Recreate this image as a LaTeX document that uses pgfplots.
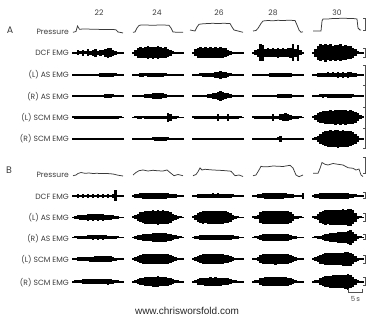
\documentclass[border=0pt]{standalone}
\usepackage{pgfplots}
\usepackage{pgfplotstable}
\usepackage{fontspec}
\pgfplotsset{compat=1.18}
\setmainfont{Poppins}
\newfontfamily\arialf{Liberation Sans}
\definecolor{txt}{HTML}{3C3C3C}
\definecolor{prscol}{HTML}{3A3A3A}
\definecolor{sbar}{HTML}{505050}
\tikzset{lab/.style={font=\fontsize{7.6}{9}\selectfont, text=txt, inner sep=0pt}}

\pgfplotstableread{
t    a1  a2  a3  a4  a5
0    0.8 0.8 0.8 0.8 1.0
2.5  1.2 3.0 3.5 2.5 4.0
5    2.5 5.0 5.0 4.0 7.0
7.5  1.5 5.5 5.5 8.5 8.5
10   3.0 5.0 5.0 8.0 7.5
12.5 1.5 5.5 5.5 4.0 9.0
15   3.5 6.5 5.0 4.5 7.5
17.5 1.8 5.5 5.5 4.0 8.5
20   3.0 6.0 5.0 4.5 7.0
22.5 3.8 5.5 5.5 4.0 8.0
25   2.2 6.5 5.0 5.0 7.5
27.5 3.2 5.5 5.5 4.0 8.5
30   2.5 5.0 5.0 4.5 7.0
32.5 4.0 5.5 4.5 4.0 7.5
35   5.0 4.0 3.0 4.5 6.5
37.5 4.5 3.0 2.0 5.0 6.5
40   3.0 1.5 1.2 8.5 5.0
42.5 2.2 0.9 0.9 4.0 3.5
45   1.2 0.8 0.8 8.0 1.5
47.5 0.8 0.8 0.8 2.5 0.9
50   0.8 0.8 0.8 0.8 0.8
}\tADCF

\pgfplotstableread{
t    a1  a2  a3  a4  a5
0    0.9 0.9 0.8 0.8 0.9
2.5  1.0 1.0 1.0 0.9 1.3
5    0.9 1.3 1.2 1.0 2.0
7.5  1.0 1.6 1.5 1.1 2.3
10   0.9 1.8 1.8 1.3 2.4
12.5 1.0 1.5 2.0 1.4 2.2
15   1.0 1.9 1.8 1.4 2.5
17.5 1.1 1.6 2.2 1.6 2.2
20   1.0 2.0 2.4 1.7 2.5
22.5 1.2 1.8 2.6 1.6 2.3
25   1.4 2.2 3.0 1.9 2.6
27.5 1.9 1.8 3.6 2.1 2.4
30   2.1 1.7 3.2 1.9 2.7
32.5 2.3 1.5 2.6 2.1 2.4
35   2.0 1.3 2.0 1.9 2.7
37.5 2.3 1.2 1.5 1.6 2.5
40   1.8 1.0 1.1 1.3 2.3
42.5 1.5 1.0 0.9 1.0 1.9
45   1.2 0.9 0.8 0.9 1.3
47.5 0.9 0.9 0.8 0.8 0.9
50   0.8 0.8 0.8 0.8 0.8
}\tALAS

\pgfplotstableread{
t    a1  a2  a3  a4  a5
0    0.7 0.7 0.7 0.7 0.8
2.5  0.7 0.7 0.7 0.7 1.0
5    0.7 0.8 0.7 0.7 1.3
7.5  0.7 1.0 0.8 0.7 1.5
10   0.7 1.4 0.9 0.7 1.6
12.5 0.7 1.9 1.2 0.7 1.5
15   0.7 2.2 1.6 0.8 1.7
17.5 0.7 2.4 2.1 0.9 1.6
20   0.7 2.7 2.6 1.2 1.7
22.5 0.7 3.0 3.2 1.4 1.6
25   0.7 3.2 3.8 1.7 1.8
27.5 0.8 3.0 4.6 1.9 1.6
30   1.2 2.5 4.3 2.1 1.7
32.5 1.6 1.8 3.4 2.0 1.6
35   1.8 1.2 2.5 1.9 1.7
37.5 2.0 0.9 1.6 1.6 1.6
40   1.5 0.8 1.1 1.1 1.5
42.5 1.0 0.7 0.8 0.8 1.3
45   0.7 0.7 0.7 0.7 1.0
47.5 0.7 0.7 0.7 0.7 0.8
50   0.7 0.7 0.7 0.7 0.7
}\tARAS

\pgfplotstableread{
t    a1  a2  a3  a4  a5
0    1.0 0.9 1.0 1.0 1.0
2.5  1.1 1.0 1.2 1.1 2.5
5    1.2 1.1 1.3 1.2 4.5
7.5  1.1 1.1 1.2 1.3 5.5
10   1.2 1.0 1.3 1.2 6.0
12.5 1.1 1.1 1.2 1.3 6.5
15   1.3 1.2 1.3 1.2 6.8
17.5 1.2 1.1 1.4 1.4 7.0
20   1.4 1.2 1.3 3.2 6.8
22.5 1.5 1.4 1.5 1.4 7.2
25   1.4 1.5 3.5 1.5 7.0
27.5 1.5 1.6 1.5 3.0 7.3
30   1.6 1.5 1.4 3.8 7.0
32.5 1.5 1.8 1.5 4.0 7.2
35   1.6 4.5 3.2 3.7 6.8
37.5 1.5 3.2 1.4 2.6 7.0
40   1.6 1.3 1.3 1.5 6.5
42.5 1.4 1.1 1.2 1.2 5.5
45   1.2 1.0 1.1 1.1 4.0
47.5 1.0 0.9 1.0 1.0 2.0
50   0.9 0.9 0.9 0.9 1.0
}\tALSCM

\pgfplotstableread{
t    a1  a2  a3  a4  a5
0    1.0 1.0 1.0 1.0 0.9
2.5  1.2 1.1 1.2 1.1 1.5
5    1.3 1.2 1.3 1.2 3.0
7.5  1.2 1.3 1.2 1.3 5.0
10   1.4 1.2 1.4 1.2 6.5
12.5 1.3 1.3 1.3 1.3 7.5
15   1.4 1.3 1.4 1.2 8.0
17.5 1.3 1.4 1.3 1.3 8.5
20   1.4 1.5 1.4 1.2 8.0
22.5 1.3 1.6 1.3 1.3 8.5
25   1.4 1.7 1.4 1.5 8.8
27.5 1.3 1.8 1.3 3.2 8.0
30   1.4 1.7 1.4 1.3 8.5
32.5 1.3 1.8 1.3 1.2 8.0
35   1.4 1.5 1.4 1.3 8.0
37.5 1.3 1.3 1.3 1.2 7.5
40   1.4 1.2 1.4 1.3 6.5
42.5 1.3 1.1 1.3 1.2 5.0
45   1.2 1.0 1.2 1.1 3.0
47.5 1.1 1.0 1.1 1.0 1.4
50   1.0 0.9 1.0 1.0 0.9
}\tARSCM

\pgfplotstableread{
t    a1  a2  a3  a4  a5
0    0.8 0.9 0.9 0.8 0.9
2.5  1.2 1.6 1.4 1.2 1.6
5    1.8 2.2 1.9 1.8 2.4
7.5  1.2 2.5 2.2 2.2 2.8
10   2.0 2.7 2.3 2.5 3.0
12.5 1.3 2.6 2.4 2.6 2.9
15   1.9 2.8 2.3 2.7 3.1
17.5 1.3 2.7 2.4 2.6 3.0
20   2.0 2.9 2.5 2.8 3.2
22.5 1.4 2.7 2.4 2.7 3.0
25   1.9 2.8 2.5 2.8 3.1
27.5 1.4 2.7 2.4 2.6 3.0
30   2.0 2.8 2.3 2.7 2.9
32.5 1.4 2.6 2.2 2.5 2.8
35   1.9 2.5 2.0 2.4 2.6
37.5 1.4 2.3 1.8 2.2 2.3
40   2.2 2.1 1.5 1.8 2.0
42.5 5.5 1.8 1.2 1.4 1.5
45   1.2 1.4 1.0 1.1 1.1
47.5 0.8 1.0 0.9 1.0 0.9
50   0.8 0.8 0.8 2.8 0.8
}\tBDCF

\pgfplotstableread{
t    a1  a2  a3  a4  a5
0    0.9 1.0 1.0 1.0 1.0
2.5  1.3 2.0 2.5 1.3 1.5
5    2.0 3.8 4.8 2.0 3.0
7.5  2.4 5.0 5.8 5.2 5.5
10   2.7 5.6 6.2 6.3 6.8
12.5 2.9 6.2 6.0 6.7 7.2
15   3.1 6.6 6.3 6.5 7.0
17.5 3.0 6.9 6.1 6.8 7.4
20   3.2 7.0 6.4 6.6 7.2
22.5 3.0 6.8 6.2 6.9 7.5
25   3.2 7.1 6.3 6.7 7.8
27.5 3.0 6.8 6.1 6.9 7.4
30   3.1 7.0 6.2 6.6 8.0
32.5 2.9 6.6 6.0 6.8 7.6
35   2.7 6.3 5.5 6.5 8.2
37.5 2.4 5.3 4.4 5.8 8.6
40   2.0 3.8 2.8 3.2 7.0
42.5 1.4 2.2 1.4 1.6 4.5
45   1.1 1.3 1.0 1.1 1.8
47.5 0.9 1.0 0.9 1.0 1.0
50   0.8 0.9 0.9 0.9 0.9
}\tBLAS

\pgfplotstableread{
t    a1  a2  a3  a4  a5
0    0.8 0.9 0.8 0.8 0.9
2.5  1.0 1.5 1.2 1.0 1.0
5    1.4 2.3 1.8 1.5 1.3
7.5  1.6 2.9 2.2 2.5 1.8
10   1.8 3.3 2.4 3.0 2.6
12.5 1.9 3.6 2.6 3.3 3.1
15   2.0 3.8 2.7 3.4 3.6
17.5 2.0 3.9 2.7 3.5 4.1
20   2.1 4.0 2.8 3.4 4.6
22.5 2.0 4.1 2.7 3.5 4.7
25   2.1 4.2 2.8 3.4 5.2
27.5 2.0 4.1 2.7 3.5 5.3
30   2.1 4.2 2.7 3.3 5.8
32.5 2.0 4.0 2.6 3.2 5.9
35   1.9 3.8 2.5 3.0 6.5
37.5 1.8 3.4 2.3 2.6 7.2
40   1.5 2.8 2.0 1.9 5.5
42.5 1.2 2.0 1.5 1.2 3.2
45   1.0 1.3 1.1 0.9 1.5
47.5 0.8 1.0 0.9 0.8 1.0
50   0.8 0.9 0.8 0.8 0.9
}\tBRAS

\pgfplotstableread{
t    a1  a2  a3  a4  a5
0    0.9 1.0 1.0 1.0 1.0
2.5  1.3 1.9 2.0 1.3 1.6
5    1.8 3.2 3.4 2.0 3.0
7.5  2.0 4.2 4.3 4.2 4.5
10   2.2 4.7 4.6 5.0 5.2
12.5 2.2 5.0 4.8 5.3 5.6
15   2.4 5.2 4.7 5.2 5.8
17.5 2.5 5.0 4.9 5.4 5.7
20   2.5 5.3 4.8 5.3 6.0
22.5 2.6 5.1 4.9 5.5 5.9
25   2.7 5.3 4.8 5.3 6.2
27.5 2.7 5.0 4.7 5.4 6.0
30   2.9 5.2 4.6 5.2 6.5
32.5 3.0 4.9 4.3 5.0 6.8
35   2.9 4.6 3.8 4.8 7.2
37.5 2.7 4.0 3.0 4.0 6.5
40   2.2 3.0 2.0 2.8 5.0
42.5 1.5 2.0 1.3 1.6 3.0
45   1.1 1.3 1.0 1.1 1.5
47.5 0.9 1.0 0.9 0.9 1.0
50   0.8 0.9 0.9 0.9 0.9
}\tBLSCM

\pgfplotstableread{
t    a1  a2  a3  a4  a5
0    0.9 0.9 0.9 0.9 0.9
2.5  1.2 1.3 1.8 1.2 1.1
5    1.6 2.2 3.0 1.9 1.8
7.5  1.9 3.2 3.6 3.2 3.5
10   2.1 3.9 3.9 4.0 4.8
12.5 2.2 4.3 4.0 4.4 5.4
15   2.3 4.6 4.0 4.6 5.8
17.5 2.4 4.8 4.1 4.7 6.0
20   2.4 5.0 4.0 4.8 6.2
22.5 2.5 5.0 4.1 4.7 6.3
25   2.6 5.1 4.0 4.9 6.4
27.5 2.7 4.9 4.0 4.8 6.5
30   2.8 4.8 3.9 4.6 6.8
32.5 2.9 4.5 3.7 4.4 7.0
35   3.0 4.0 3.3 4.0 8.0
37.5 2.6 3.3 2.6 3.2 6.5
40   2.0 2.4 1.8 2.2 5.0
42.5 1.4 1.6 1.2 1.4 3.0
45   1.1 1.1 1.0 1.0 1.4
47.5 0.9 0.9 0.9 0.9 1.0
50   0.8 0.8 0.8 0.8 0.9
}\tBRSCM

\pgfplotsset{
  emg/.style={black, line width=0.7pt, mark=none,
    error bars/.cd, y dir=both, y explicit, error mark=none,
    error bar style={line width=2.2pt, black}},
  pline/.style={prscol, line width=0.75pt, mark=none},
  sb/.style={sbar, line width=0.6pt, mark=none},
}
\newcommand{\emgrow}[2]{%
  \addplot[emg] table[x expr=\thisrow{t}+73,  y expr=#2, y error=a1] {#1};
  \addplot[emg] table[x expr=\thisrow{t}+133, y expr=#2, y error=a2] {#1};
  \addplot[emg] table[x expr=\thisrow{t}+193, y expr=#2, y error=a3] {#1};
  \addplot[emg] table[x expr=\thisrow{t}+253, y expr=#2, y error=a4] {#1};
  \addplot[emg] table[x expr=\thisrow{t}+313, y expr=#2, y error=a5] {#1};
}

\begin{document}
\begin{tikzpicture}
\path[use as bounding box] (0,0) rectangle (369pt,320pt);
\begin{axis}[at={(0,0)}, anchor=south west, scale only axis,
  width=369pt, height=320pt, xmin=0, xmax=369, ymin=0, ymax=320,
  y dir=reverse, hide axis, clip=false]

% Pressure A
\addplot[pline] coordinates {(73,32.3)(76,31.5)(77.5,26)(79.5,29.3)(83,29)(93,29.2)(103,29.5)(113,29.5)(116,29.8)(118,32)(121,32.5)(123,33)};
\addplot[pline] coordinates {(133,32.3)(135,32)(137,28)(139,25.5)(141,25)(153,25.2)(163,25)(169,25.3)(171,28)(173,32)(178,32.3)(183,32.3)};
\addplot[pline] coordinates {(190,30)(195,31)(197,27)(199,24.3)(203,23.8)(208,23.5)(213,23.3)(218,23.6)(223,23.3)(230,23.5)(232,27)(234,30)(238,31)(243,32.3)};
\addplot[pline] coordinates {(253,31)(256,30.5)(258,28.3)(261,23.5)(263,21)(268,20.5)(273,20.8)(278,20.3)(283,20.6)(288,20.2)(295,20.5)(297,25)(299,30)(301,32.3)(303,31.8)};
\addplot[pline] coordinates {(313,31)(321,31)(322,21)(323,19)(328,19)(333,18.5)(343,18.3)(353,18.5)(357,19)(358,28)(360,30)(361,30)};

% Pressure B
\addplot[pline] coordinates {(73,175.7)(76,175)(78,173.5)(81,172.5)(85,173.3)(89,173)(93,173.5)(97,173.3)(101,173.6)(107,173.5)(113,174)(118,175.2)(123,176)};
\addplot[pline] coordinates {(133,175)(136,172.5)(139,170.7)(143,170)(148,171)(153,170.3)(158,170.8)(163,171)(167,170)(171,173.3)(174,175.7)(178,174.5)(183,175.7)};
\addplot[pline] coordinates {(193,175.7)(196,174.5)(198,171.7)(200,168)(202,170)(205,169.3)(213,170)(223,170.5)(231,171.2)(235,175.7)(239,175)(243,176.5)};
\addplot[pline] coordinates {(253,175.7)(256,175)(259,170)(261,166.3)(263,166.8)(268,166.7)(273,166)(283,166.5)(290,165.3)(293,168)(296,175)(299,176.7)(303,175)};
\addplot[pline] coordinates {(313,173.3)(318,173.3)(320,168.5)(322,162.5)(325,164.3)(328,165)(333,163.5)(338,164.3)(343,165)(348,167.7)(353,168.3)(356,170)(359,169)(361,175)(363,176.5)};

% EMG rows
\emgrow{\tADCF}{53}
\emgrow{\tALAS}{75}
\emgrow{\tARAS}{96}
\emgrow{\tALSCM}{117.5}
\emgrow{\tARSCM}{139}
\emgrow{\tBDCF}{196}
\emgrow{\tBLAS}{217.5}
\emgrow{\tBRAS}{237.5}
\emgrow{\tBLSCM}{259}
\emgrow{\tBRSCM}{281.5}

% scale bars
\addplot[sb] coordinates {(363,18.5)(365,18.5)(365,30.5)(363,30.5)};
\addplot[sb] coordinates {(363,48)(365,48)(365,57)(363,57)};
\addplot[sb] coordinates {(363,65)(365,65)(365,148)(363,148)};
\addplot[sb] coordinates {(363,85.5)(365,85.5)};
\addplot[sb] coordinates {(363,107)(365,107)};
\addplot[sb] coordinates {(363,128)(365,128)};
\addplot[sb] coordinates {(363,157.5)(365,157.5)(365,173.5)(363,173.5)};
\addplot[sb] coordinates {(363,192.5)(365,192.5)(365,198.5)(363,198.5)};
\addplot[sb] coordinates {(363,213.5)(365,213.5)(365,221)(363,221)};
\addplot[sb] coordinates {(363,234.5)(365,234.5)(365,239)(363,239)};
\addplot[sb] coordinates {(363,255)(365,255)(365,263)(363,263)};
\addplot[sb] coordinates {(363,277.5)(365,277.5)(365,285)(363,285)};
\addplot[sb] coordinates {(348,289)(348,292)(362.5,292)(362.5,289)};

% labels
\node[lab, font=\fontsize{9.5}{11}\selectfont, anchor=center] at (axis cs:10,30) {A};
\node[lab, font=\fontsize{9.5}{11}\selectfont, anchor=center] at (axis cs:9,170) {B};
\node[lab, anchor=center] at (axis cs:99,12.5) {22};
\node[lab, anchor=center] at (axis cs:157,12.5) {24};
\node[lab, anchor=center] at (axis cs:219,12.5) {26};
\node[lab, anchor=center] at (axis cs:273,12.5) {28};
\node[lab, anchor=center] at (axis cs:337,12.5) {30};

\node[lab, anchor=east] at (axis cs:69,31.5) {Pressure};
\node[lab, anchor=east] at (axis cs:69,53) {DCF EMG};
\node[lab, anchor=east] at (axis cs:69,75) {(L) AS EMG};
\node[lab, anchor=east] at (axis cs:69,96.5) {(R) AS EMG};
\node[lab, anchor=east] at (axis cs:69,117.5) {(L) SCM EMG};
\node[lab, anchor=east] at (axis cs:69,139) {(R) SCM EMG};

\node[lab, anchor=east] at (axis cs:69,175) {Pressure};
\node[lab, anchor=east] at (axis cs:69,196.5) {DCF EMG};
\node[lab, anchor=east] at (axis cs:69,218) {(L) AS EMG};
\node[lab, anchor=east] at (axis cs:69,239) {(R) AS EMG};
\node[lab, anchor=east] at (axis cs:69,259.5) {(L) SCM EMG};
\node[lab, anchor=east] at (axis cs:69,283) {(R) SCM EMG};

\node[lab, font=\fontsize{7}{8}\selectfont, text=sbar, anchor=center] at (axis cs:355.5,299) {5\,s};
\node[inner sep=0pt, font=\arialf\fontsize{10}{12}\selectfont, text=black!85, anchor=center] at (axis cs:187,311) {www.chrisworsfold.com};
\end{axis}
\end{tikzpicture}
\end{document}
